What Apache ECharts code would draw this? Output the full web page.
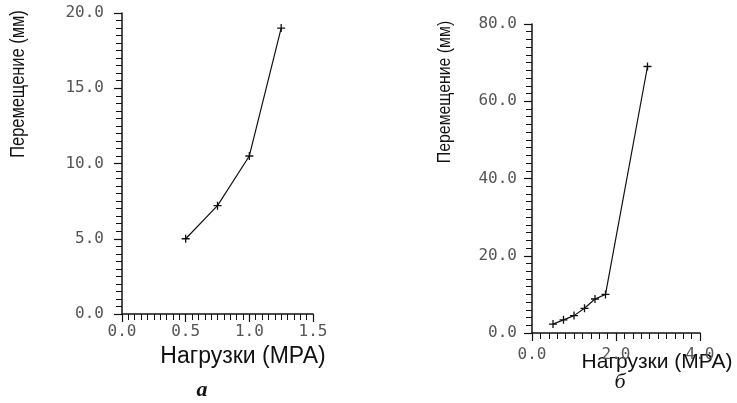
<!DOCTYPE html>
<html>
<head>
<meta charset="utf-8">
<script src="https://cdn.jsdelivr.net/npm/echarts@6/dist/echarts.min.js"></script>
<style>
    html, body { margin: 0; padding: 0; background: #fff; }
    .box { position: absolute; top: 0; height: 403px; }
    .echarts_left { left: 0; width: 368px; }
    .echarts_right { left: 368px; width: 369px; }
</style>
</head>
<body>
<div class="box echarts_left"></div>
<div class="box echarts_right"></div>
<script>
// 数据 (а)
var load_a = [0.5, 0.75, 1.0, 1.25];
var disp_a = [5.0, 7.2, 10.5, 19.0];
var x_ticks_a = [0, 0.5, 1.0, 1.5];
var y_ticks_a = [0, 5, 10, 15, 20];

// 数据 (б)
var load_b = [0.5, 0.75, 1.0, 1.25, 1.5, 1.75, 2.75];
var disp_b = [2.3, 3.4, 4.5, 6.4, 8.8, 10.0, 69.0];
var x_ticks_b = [0, 2.0, 4.0];
var y_ticks_b = [0, 20, 40, 60, 80];

var x_name = 'Нагрузки (МРА)';
var y_name = 'Перемещение (мм)';

var ink = '#111';
var tick_font = { color: '#555', fontFamily: 'DejaVu Sans Mono', fontSize: 16 };
var plus = 'path://M0,5L10,5M5,0L5,10';

function pairs(xs, ys) {
    return xs.map(function (x, i) { return [x, ys[i]]; });
}

// 坐标轴公共部分
function axis(ticks, margin, tickLen) {
    return {
        type: 'value',
        min: ticks[0],
        max: ticks[ticks.length - 1],
        interval: ticks[1] - ticks[0],
        splitLine: { show: false },
        axisLine: { lineStyle: { color: ink, width: 1.5 } },
        axisTick: { show: true, length: tickLen, lineStyle: { color: ink, width: 1.2 } },
        minorTick: { show: true, splitNumber: 10, length: 6, lineStyle: { color: ink, width: 1 } },
        axisLabel: Object.assign({
            margin: margin,
            formatter: function (v) { return v.toFixed(1); }
        }, tick_font)
    };
}

// 文字 (轴名, 小标题)
function text(x, y, str, size, rotate, squeeze, extra) {
    return {
        type: 'text',
        x: x, y: y,
        rotation: rotate || 0,
        scaleX: squeeze || 1,
        style: Object.assign({
            text: str,
            fill: ink,
            font: size + 'px "Liberation Sans", Arial, sans-serif',
            textAlign: 'center',
            textVerticalAlign: 'middle'
        }, extra || {})
    };
}

function series(xs, ys) {
    return [{
        type: 'line',
        data: pairs(xs, ys),
        symbol: plus,
        symbolSize: 8,
        lineStyle: { color: ink, width: 1.2 },
        itemStyle: { color: 'transparent', borderColor: ink, borderWidth: 1.3 },
        animation: false
    }];
}

// 左边图 (а)
var echarts_left = echarts.init(document.querySelector('.echarts_left'));
var option_left = {
    animation: false,
    grid: { left: 122, top: 13, width: 191, height: 301, outerBoundsMode: 'none' },
    xAxis: axis(x_ticks_a, 10, 8),
    yAxis: axis(y_ticks_a, 18, 8),
    series: series(load_a, disp_a),
    graphic: [
        text(18, 84, y_name, 20, Math.PI / 2, 0.82),
        text(243, 357, x_name, 23),
        text(202, 390, 'а', 22, 0, 1, { font: 'italic bold 22px "Liberation Serif", serif' })
    ]
};
echarts_left.setOption(option_left);

// 右边图 (б)
var echarts_right = echarts.init(document.querySelector('.echarts_right'));
var option_right = {
    animation: false,
    grid: { left: 164, top: 24, width: 168, height: 309, outerBoundsMode: 'none' },
    xAxis: axis(x_ticks_b, 14, 8),
    yAxis: axis(y_ticks_b, 15, 8),
    series: series(load_b, disp_b),
    graphic: [
        text(77, 92, y_name, 18, Math.PI / 2, 0.88),
        text(289, 362, x_name, 21),
        text(252, 382, 'б', 22, 0, 1, { font: 'italic 22px "Liberation Serif", serif' })
    ]
};
echarts_right.setOption(option_right);
</script>
</body>
</html>
